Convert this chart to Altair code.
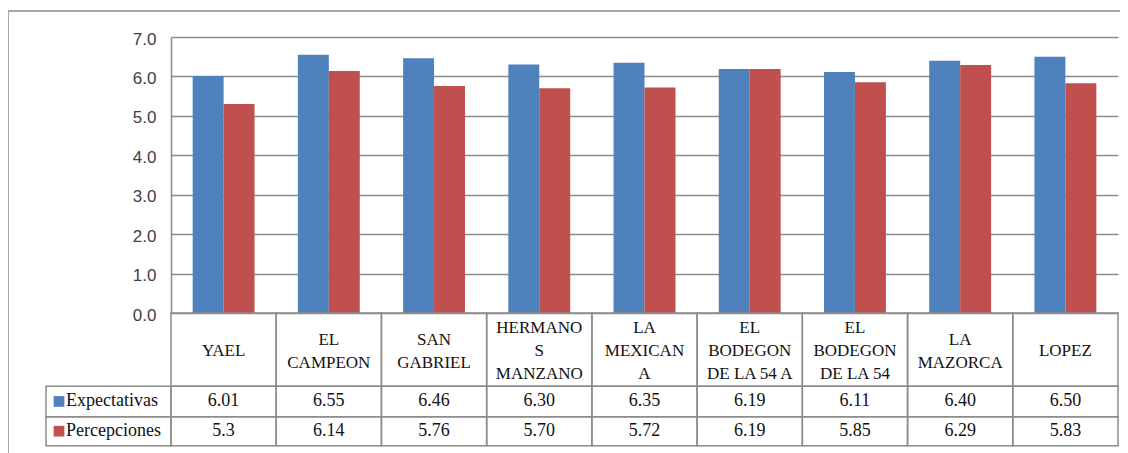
import altair as alt
import pandas as pd

# ---------------- data ----------------
categories = ["YAEL", "EL CAMPEON", "SAN GABRIEL", "HERMANOS MANZANO", "LA MEXICANA",
              "EL BODEGON DE LA 54 A", "EL BODEGON DE LA 54", "LA MAZORCA", "LOPEZ"]
header_lines = [["YAEL"], ["EL", "CAMPEON"], ["SAN", "GABRIEL"], ["HERMANO", "S", "MANZANO"],
                ["LA", "MEXICAN", "A"], ["EL", "BODEGON", "DE LA 54 A"],
                ["EL", "BODEGON", "DE LA 54"], ["LA", "MAZORCA"], ["LOPEZ"]]
series = ["Expectativas", "Percepciones"]
expectativas = [6.01, 6.55, 6.46, 6.30, 6.35, 6.19, 6.11, 6.40, 6.50]
percepciones = [5.3, 6.14, 5.76, 5.70, 5.72, 6.19, 5.85, 6.29, 5.83]
expectativas_labels = ["6.01", "6.55", "6.46", "6.30", "6.35", "6.19", "6.11", "6.40", "6.50"]
percepciones_labels = ["5.3", "6.14", "5.76", "5.70", "5.72", "6.19", "5.85", "6.29", "5.83"]
y_ticks = [0, 1, 2, 3, 4, 5, 6, 7]
colors = ["#4F81BD", "#C0504D"]

# table rows (in row units): header, Expectativas, Percepciones
row_top = [0.0, 2.4, 3.4]
row_bottom = [2.4, 3.4, 4.35]

GRID = "#8c8c8c"
SERIF = "Liberation Serif"
SANS = "Liberation Sans"

PLOT_H = 276
ROW_PX = 30.5
LINE_H = 23.0  # header line height in px

# ---------------- tables ----------------
bars_df = pd.DataFrame(
    [{"category": c, "series": series[0], "value": v} for c, v in zip(categories, expectativas)]
    + [{"category": c, "series": series[1], "value": v} for c, v in zip(categories, percepciones)]
)

cells_df = pd.DataFrame(
    [{"category": c, "top": t, "bottom": b}
     for c in categories for t, b in zip(row_top, row_bottom)]
)

header_center = (row_top[0] + row_bottom[0]) / 2 + 0.06
header_df = pd.DataFrame(
    [{"category": c, "lines": l,
      "first": header_center - (len(l) - 1) / 2 * LINE_H / ROW_PX}
     for c, l in zip(categories, header_lines)]
)

values_df = pd.DataFrame(
    [{"category": c, "label": l, "mid": (row_top[1] + row_bottom[1]) / 2}
     for c, l in zip(categories, expectativas_labels)]
    + [{"category": c, "label": l, "mid": (row_top[2] + row_bottom[2]) / 2}
       for c, l in zip(categories, percepciones_labels)]
)

legend_df = pd.DataFrame(
    [{"series": s, "top": row_top[i + 1], "bottom": row_bottom[i + 1],
      "mid": (row_top[i + 1] + row_bottom[i + 1]) / 2} for i, s in enumerate(series)]
)

frame_df = pd.DataFrame({"k": [0]})

# ---------------- scales ----------------
table_scale = alt.Scale(domain=[0, 4.4], range=[PLOT_H, PLOT_H + 4.4 * ROW_PX],
                        nice=False, zero=False)
x_enc = alt.X("category:N", sort=categories,
              scale=alt.Scale(paddingInner=0, paddingOuter=0), axis=None)
color_enc = alt.Color("series:N", scale=alt.Scale(domain=series, range=colors), legend=None)

# ---------------- layers ----------------
bars = alt.Chart(bars_df).mark_bar().encode(
    x=x_enc,
    xOffset=alt.XOffset("series:N", sort=series,
                        scale=alt.Scale(paddingInner=0, paddingOuter=0.7)),
    y=alt.Y("value:Q", scale=alt.Scale(domain=[0, 7], nice=False),
            axis=alt.Axis(values=y_ticks, format=".1f", title=None, grid=True,
                          gridColor=GRID, gridWidth=1.5, domainColor=GRID, domainWidth=1.5,
                          ticks=False, labelPadding=15, labelFont=SANS, labelFontSize=17,
                          labelColor="#404040", labelOffset=2)),
    color=color_enc,
)

cells = alt.Chart(cells_df).mark_rect(fillOpacity=0, stroke=GRID, strokeWidth=1.5).encode(
    x=x_enc,
    y=alt.Y("top:Q", scale=table_scale, axis=None),
    y2="bottom:Q",
)

header_text = alt.Chart(header_df).mark_text(
    font=SERIF, fontSize=17, lineHeight=LINE_H, baseline="middle", align="center",
    color="#111111"
).encode(
    x=x_enc,
    y=alt.Y("first:Q", scale=table_scale, axis=None),
    text="lines",
)

values_text = alt.Chart(values_df).mark_text(
    font=SERIF, fontSize=18, baseline="middle", align="center", color="#111111"
).encode(
    x=x_enc,
    y=alt.Y("mid:Q", scale=table_scale, axis=None),
    text="label:N",
)

legend_cells = alt.Chart(legend_df).mark_rect(fillOpacity=0, stroke=GRID, strokeWidth=1.5).encode(
    x=alt.value(-125), x2=alt.value(0),
    y=alt.Y("top:Q", scale=table_scale, axis=None),
    y2="bottom:Q",
)

legend_marks = alt.Chart(legend_df).mark_square(size=115, opacity=1).encode(
    x=alt.value(-112),
    y=alt.Y("mid:Q", scale=table_scale, axis=None),
    color=color_enc,
)

legend_text = alt.Chart(legend_df).mark_text(
    font=SERIF, fontSize=18, baseline="middle", align="left", color="#111111"
).encode(
    x=alt.value(-105),
    y=alt.Y("mid:Q", scale=table_scale, axis=None),
    text="series:N",
)

frame_left = alt.Chart(frame_df).mark_rule(color="#a6a6a6", strokeWidth=2).encode(
    x=alt.value(-163), y=alt.value(-26), y2=alt.value(430)
)
frame_top = alt.Chart(frame_df).mark_rule(color="#a6a6a6", strokeWidth=2).encode(
    x=alt.value(-163), x2=alt.value(960), y=alt.value(-26)
)

chart = alt.layer(
    frame_left, frame_top, bars, cells, header_text, values_text,
    legend_cells, legend_marks, legend_text
).resolve_scale(y="independent").properties(
    width=947, height=PLOT_H,
    autosize=alt.AutoSizeParams(type="none"),
    padding={"left": 163, "top": 29, "right": 2, "bottom": 140},
    background="white",
).configure_view(stroke=None)

chart.save("out.html", embed_options={"renderer": "svg", "actions": False})
